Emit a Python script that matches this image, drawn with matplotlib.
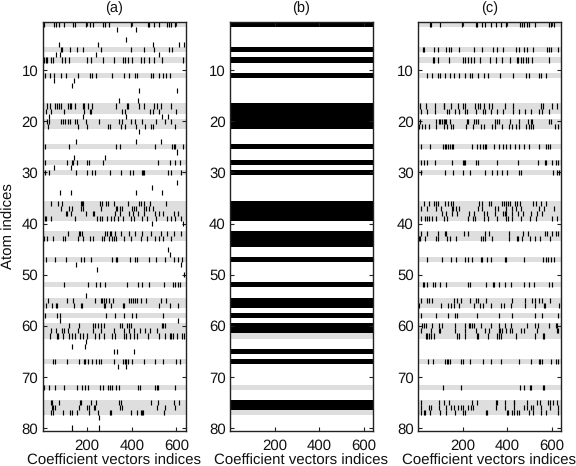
import matplotlib
matplotlib.use('Agg')
import matplotlib.pyplot as plt

plt.rcParams['font.family'] = ['Liberation Sans', 'DejaVu Sans']
plt.rcParams['text.hinting'] = 'no_hinting'

# Rows of the true support (grey) and of the recovered support in (b)
grey_rows = [1, 6, 8, 11, 17, 18, 20, 21, 25, 28, 30, 36, 37, 38, 39, 42, 43, 47, 52, 55, 56, 58,
             60, 61, 62, 67, 72, 75, 76, 77]
black_rows_b = [1, 6, 8, 11, 17, 18, 19, 20, 21, 25, 28, 30, 36, 37, 38, 39, 42, 43, 44, 47, 52, 55, 56,
                58, 60, 61, 65, 67, 75, 76]

x_ticks = [200, 400, 600]
y_ticks = [10, 20, 30, 40, 50, 60, 70, 80]
titles = ['(a)', '(b)', '(c)']

# Nonzero coefficient columns per atom row
marks_a = {
    1: [7, 52, 63, 73, 97, 137, 146, 197, 212, 228, 271, 282, 297, 395, 472, 478, 499, 524, 557, 566, 577, 595],
    2: [334, 419],
    4: [374],
    5: [75, 249, 493, 611, 633],
    6: [83, 88, 122, 155, 182, 261, 396, 453, 498, 565, 580],
    7: [63, 79, 240, 522],
    8: [6, 18, 22, 40, 46, 86, 101, 119, 200, 216, 271, 320, 361, 371, 383, 401, 440, 457, 476, 498, 535, 629],
    11: [10, 34, 54, 82, 106, 159, 215, 222, 241, 310, 367, 387, 413, 423, 484, 496, 520, 541, 551, 572],
    12: [52, 142],
    13: [133],
    14: [432, 602],
    16: [343, 428],
    17: [22, 34, 57, 66, 75, 85, 115, 124, 128, 146, 182, 188, 206, 221, 329, 377, 383, 434, 453, 499, 511, 530, 575],
    18: [16, 40, 95, 185, 215, 219, 356, 370, 481, 496, 524, 597],
    19: [28, 182, 373, 535, 562],
    20: [3, 22, 30, 82, 92, 103, 113, 125, 145, 156, 194, 252, 343, 356, 395, 413, 447, 510, 547, 575],
    21: [3, 25, 159, 200, 294, 304, 352, 370, 420, 459, 487, 493, 595],
    22: [432],
    24: [150, 419, 530],
    25: [12, 119, 329, 346, 504, 580, 590, 595, 629],
    26: [602],
    27: [142, 280],
    28: [10, 110, 133, 139, 155, 200, 209, 270, 517, 569, 595, 614],
    29: [52, 128],
    30: [12, 31, 149, 200, 221, 235, 302, 352, 392, 407, 444, 451, 457, 562, 575, 621],
    32: [602],
    33: [490],
    34: [79, 128, 419, 535],
    36: [39, 70, 88, 171, 177, 182, 256, 265, 286, 293, 320, 383, 434, 440, 454, 481, 554],
    37: [85, 121, 133, 174, 182, 261, 328, 334, 347, 356, 401, 411, 420, 453, 462, 475, 495],
    38: [106, 112, 127, 194, 226, 231, 325, 349, 387, 405, 429, 454, 502, 524, 539, 587, 609],
    39: [12, 16, 39, 146, 246, 258, 265, 289, 305, 320, 338, 361, 398, 411, 445, 466, 508, 557, 574, 595, 621],
    40: [490, 629],
    42: [115, 164, 170, 177, 280, 288, 301, 308, 326, 352, 387, 413, 448, 484, 529, 557, 589, 621],
    43: [1, 9, 22, 46, 92, 101, 159, 182, 212, 225, 265, 277, 297, 313, 320, 328, 365, 395, 443, 468, 504, 522, 539, 574],
    45: [562],
    46: [571],
    47: [16, 57, 106, 174, 185, 219, 311, 329, 335, 392, 413, 422, 478, 510, 550, 589, 605, 627],
    48: [150, 621],
    49: [244],
    50: [633],
    52: [97, 204, 241, 259, 280, 378, 428, 445, 476, 544, 584, 593, 605, 615],
    54: [195],
    55: [25, 112, 139, 235, 261, 265, 274, 284, 297, 317, 387, 396, 405, 415, 425, 443, 462, 529, 553],
    56: [1, 18, 43, 63, 66, 142, 173, 179, 277, 280, 305, 362, 365, 522, 569, 606],
    58: [10, 64, 79, 286, 326, 364, 399, 420, 541],
    59: [79, 606],
    60: [118, 164, 228, 235, 249, 261, 274, 349, 356, 377, 387, 395, 535, 542, 548],
    61: [37, 63, 89, 95, 115, 159, 228, 261, 320, 364, 386, 408, 435, 460, 480, 511],
    62: [36, 66, 70, 92, 118, 134, 145, 167, 182, 200, 234, 255, 276, 313, 323, 364, 375, 390, 410, 423, 472, 524, 550,
         569, 577, 584, 603, 625, 633],
    63: [195],
    64: [133, 189],
    65: [320, 332, 410],
    67: [48, 55, 112, 165, 185, 192, 204, 224, 238, 253, 264, 320, 361, 370, 375, 384, 399, 453, 502, 539, 596, 615],
    68: [338, 374],
    72: [6, 30, 55, 98, 155, 177, 191, 204, 259, 270, 294, 304, 310, 331, 343, 426, 435, 504, 513, 517, 593],
    75: [39, 43, 75, 168, 173, 219, 241, 343, 352, 486, 516, 589, 611],
    76: [42, 48, 55, 164, 200, 209, 229, 237, 347, 356, 511, 547, 592],
    77: [1, 39, 48, 94, 124, 133, 155, 209, 249, 302, 308, 396, 422, 441, 447, 450, 544],
    78: [253],
    80: [133, 253],
}

marks_c = {
    1: [54, 58, 98, 198, 259, 265, 285, 302, 325, 349, 373, 395, 456, 466, 477, 490, 496, 523, 586, 596, 611],
    6: [22, 27, 72, 88, 128, 139, 149, 183, 250, 288, 338, 356, 380, 437, 454, 475, 489, 517, 577, 586, 597, 626],
    8: [67, 73, 89, 139, 201, 210, 223, 237, 253, 280, 322, 349, 378, 413, 443, 450, 460, 471, 483, 493, 511, 586],
    11: [43, 63, 89, 98, 121, 142, 161, 186, 213, 234, 243, 267, 297, 314, 368, 425, 486, 496, 544, 553, 574],
    17: [10, 37, 75, 115, 119, 150, 179, 204, 210, 256, 268, 280, 295, 319, 331, 392, 425, 551, 562, 600, 624],
    18: [12, 39, 75, 130, 140, 165, 183, 213, 222, 258, 291, 302, 325, 355, 380, 425, 454, 481, 504, 541, 556, 586],
    20: [9, 80, 94, 101, 107, 115, 121, 128, 142, 222, 226, 252, 261, 267, 344, 353, 362, 414, 454, 495, 504, 511, 589, 596],
    21: [4, 19, 34, 49, 80, 118, 130, 147, 156, 216, 246, 282, 295, 332, 344, 377, 407, 423, 437, 454, 484, 496, 508,
         517, 612, 626],
    25: [13, 55, 112, 121, 128, 136, 145, 152, 158, 241, 264, 277, 291, 299, 307, 340, 365, 381, 393, 411, 433, 454, 477,
         499, 541, 572, 581, 590],
    28: [13, 28, 43, 76, 152, 203, 207, 213, 261, 268, 353, 447, 536, 568, 572, 600, 617, 629],
    30: [13, 121, 156, 201, 234, 302, 332, 355, 377, 401, 453, 460, 605, 624, 632],
    36: [27, 49, 72, 79, 88, 121, 134, 147, 156, 273, 286, 317, 325, 375, 386, 396, 405, 413, 434, 443, 456, 514, 530,
         551, 572],
    37: [16, 43, 79, 104, 152, 156, 171, 185, 267, 288, 344, 359, 393, 422, 437, 463, 541, 563, 608],
    38: [107, 127, 152, 173, 228, 250, 297, 311, 344, 381, 389, 396, 423, 450, 472, 504, 532, 554],
    39: [12, 31, 39, 49, 64, 80, 115, 130, 226, 246, 255, 294, 314, 352, 396, 405, 422, 463, 501, 530, 599, 624],
    42: [13, 42, 89, 121, 128, 206, 225, 299, 317, 407, 469, 492, 568, 578, 600, 617, 627],
    43: [3, 10, 34, 80, 89, 130, 145, 171, 283, 291, 301, 332, 410, 443, 449, 466, 501, 522, 548, 593],
    47: [42, 107, 147, 170, 210, 224, 243, 282, 288, 310, 329, 392, 396, 474, 562, 572, 583, 596, 608],
    52: [22, 28, 42, 67, 76, 98, 128, 224, 231, 304, 337, 341, 361, 389, 417, 477, 499, 519, 586, 599],
    55: [12, 42, 49, 61, 162, 174, 195, 235, 261, 268, 307, 422, 481, 511, 523, 544, 556, 593],
    56: [2, 6, 103, 133, 146, 162, 183, 249, 276, 291, 325, 371, 384, 417, 481, 526, 563, 568, 633],
    58: [12, 80, 137, 168, 177, 264, 365, 423, 523, 557, 627],
    60: [18, 27, 37, 61, 94, 106, 165, 209, 228, 235, 243, 249, 282, 325, 365, 389, 417, 489, 526, 539, 586, 617, 624],
    61: [16, 57, 94, 101, 165, 210, 258, 302, 320, 362, 368, 377, 395, 414, 423, 460, 475, 533, 621, 626],
    62: [37, 43, 49, 58, 72, 174, 186, 212, 264, 271, 313, 356, 362, 374, 438, 523, 559, 566],
    67: [45, 66, 121, 130, 137, 145, 192, 204, 234, 291, 328, 373, 453, 504, 541, 547, 557, 597, 617, 629],
    72: [113, 192, 456, 474, 501, 505, 560, 566],
    75: [16, 94, 119, 139, 240, 264, 350, 356, 392, 428, 432, 487, 532, 547, 583, 592, 603, 624],
    76: [12, 49, 57, 95, 125, 150, 161, 180, 192, 201, 225, 237, 247, 350, 389, 429, 477, 489, 504, 514, 553, 593, 627],
    77: [2, 15, 28, 34, 55, 98, 127, 168, 201, 213, 304, 310, 398, 404, 420, 432, 443, 451, 496, 514, 553, 574, 627],
}

W, H = 576.0, 466.0
TOP, BOTTOM = 21.7, 430.6
lefts = [42.5, 230.0, 418.0]
WIDTH_PX = 143.0
GREY = '#dedede'
FRAME = '#222222'


def draw_marks(ax, marks):
    for row, cols in marks.items():
        ax.vlines(cols, row - 0.5, row + 0.5, color='black', linewidth=0.85)


fig = plt.figure(figsize=(W / 100, H / 100), dpi=100)

for i, left in enumerate(lefts):
    ax = fig.add_axes([left / W, 1 - BOTTOM / H, WIDTH_PX / W, (BOTTOM - TOP) / H])
    ax.barh(grey_rows, 640, left=0.5, height=1, color=GREY, linewidth=0)
    if i == 0:
        draw_marks(ax, marks_a)
    elif i == 1:
        ax.barh(black_rows_b, 640, left=0.5, height=1, color='black', linewidth=0)
    else:
        draw_marks(ax, marks_c)

    ax.set_xlim(0.5, 640.5)
    ax.set_ylim(80.5, 0.5)
    ax.set_xticks(x_ticks)
    ax.set_yticks(y_ticks)
    ax.tick_params(direction='in', length=2.7, width=0.8, top=True, right=True,
                   labelsize=10.8, color=FRAME, labelcolor='#111111')
    ax.tick_params(axis='x', pad=6)
    ax.tick_params(axis='y', pad=3)
    for s in ax.spines.values():
        s.set_linewidth(1.0)
        s.set_color(FRAME)
    ax.set_title(titles[i], fontsize=10.5, pad=7, color='#111111')
    ax.set_xlabel('Coefficient vectors indices', fontsize=10.8, labelpad=0.5, color='#111111')
    if i == 0:
        ax.set_ylabel('Atom indices', fontsize=10.8, labelpad=4, color='#111111')

fig.savefig('out.png', dpi=100)
